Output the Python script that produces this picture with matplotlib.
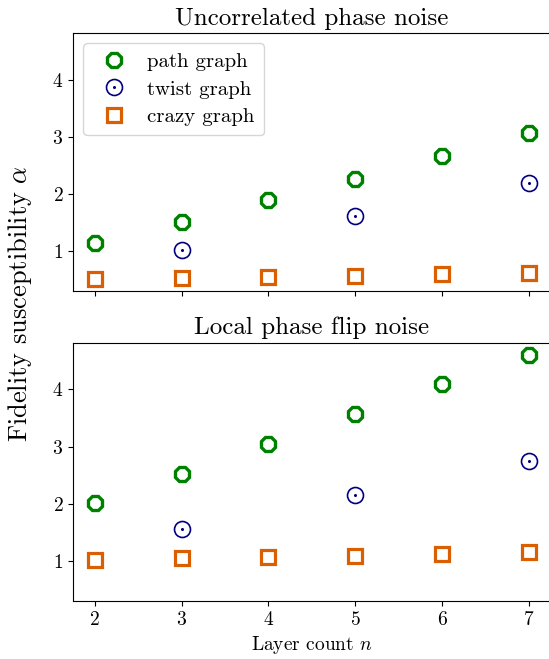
import matplotlib
matplotlib.use("Agg")
import matplotlib.pyplot as plt
from matplotlib.legend_handler import HandlerTuple

plt.rcParams['font.family'] = 'serif'
plt.rcParams['font.serif'] = ['cmr10']
plt.rcParams['mathtext.fontset'] = 'cm'
plt.rcParams['axes.formatter.use_mathtext'] = True

layers = [2, 3, 4, 5, 6, 7]
twist_layers = [3, 5, 7]

titles = ["Uncorrelated phase noise", "Local phase flip noise"]

path_uncorr = [1.14, 1.52, 1.89, 2.27, 2.66, 3.06]
twist_uncorr = [1.03, 1.61, 2.20]
crazy_uncorr = [0.51, 0.53, 0.55, 0.57, 0.60, 0.63]

path_local = [2.01, 2.52, 3.04, 3.57, 4.09, 4.61]
twist_local = [1.56, 2.15, 2.75]
crazy_local = [1.03, 1.05, 1.07, 1.09, 1.12, 1.16]

series = [
    (path_uncorr, twist_uncorr, crazy_uncorr),
    (path_local, twist_local, crazy_local),
]

c_path = '#008000'
c_twist = '#000080'
c_crazy = '#d95f02'

fig, axes = plt.subplots(2, 1, figsize=(5.49, 6.59), dpi=100, sharex=True, sharey=True)
fig.subplots_adjust(left=0.133, right=1.003, top=0.95, bottom=0.088, hspace=0.2)

for ax, title, (p, t, c) in zip(axes, titles, series):
    hp, = ax.plot(layers, p, linestyle='none', marker='8', markersize=11,
                  markerfacecolor='none', markeredgecolor=c_path, markeredgewidth=2.4)
    ht1, = ax.plot(twist_layers, t, linestyle='none', marker='o', markersize=11.5,
                   markerfacecolor='none', markeredgecolor=c_twist, markeredgewidth=1.2)
    ht2, = ax.plot(twist_layers, t, linestyle='none', marker='o', markersize=2.2,
                   markerfacecolor=c_twist, markeredgecolor=c_twist, markeredgewidth=0)
    hc, = ax.plot(layers, c, linestyle='none', marker='s', markersize=10.5,
                  markerfacecolor='none', markeredgecolor=c_crazy, markeredgewidth=2.3)
    ax.set_title(title, fontsize=18)
    ax.tick_params(labelsize=14)
    ax.set_yticks([1, 2, 3, 4])
    ax.spines['right'].set_visible(False)
    if ax is axes[0]:
        ax.legend([hp, (ht1, ht2), hc], ['path graph', 'twist graph', 'crazy graph'],
                  handler_map={tuple: HandlerTuple(ndivide=1, pad=0)},
                  loc='upper left', fontsize=15, borderpad=0.45, labelspacing=0.42,
                  handletextpad=0.6)

axes[1].set_xticks(layers)
axes[1].set_xlabel('Layer count $n$', fontsize=14)
fig.text(0.036, 0.54, r'Fidelity susceptibility $\alpha$', rotation=90,
         ha='center', va='center', fontsize=19)

fig.savefig('out.png', dpi=100)
